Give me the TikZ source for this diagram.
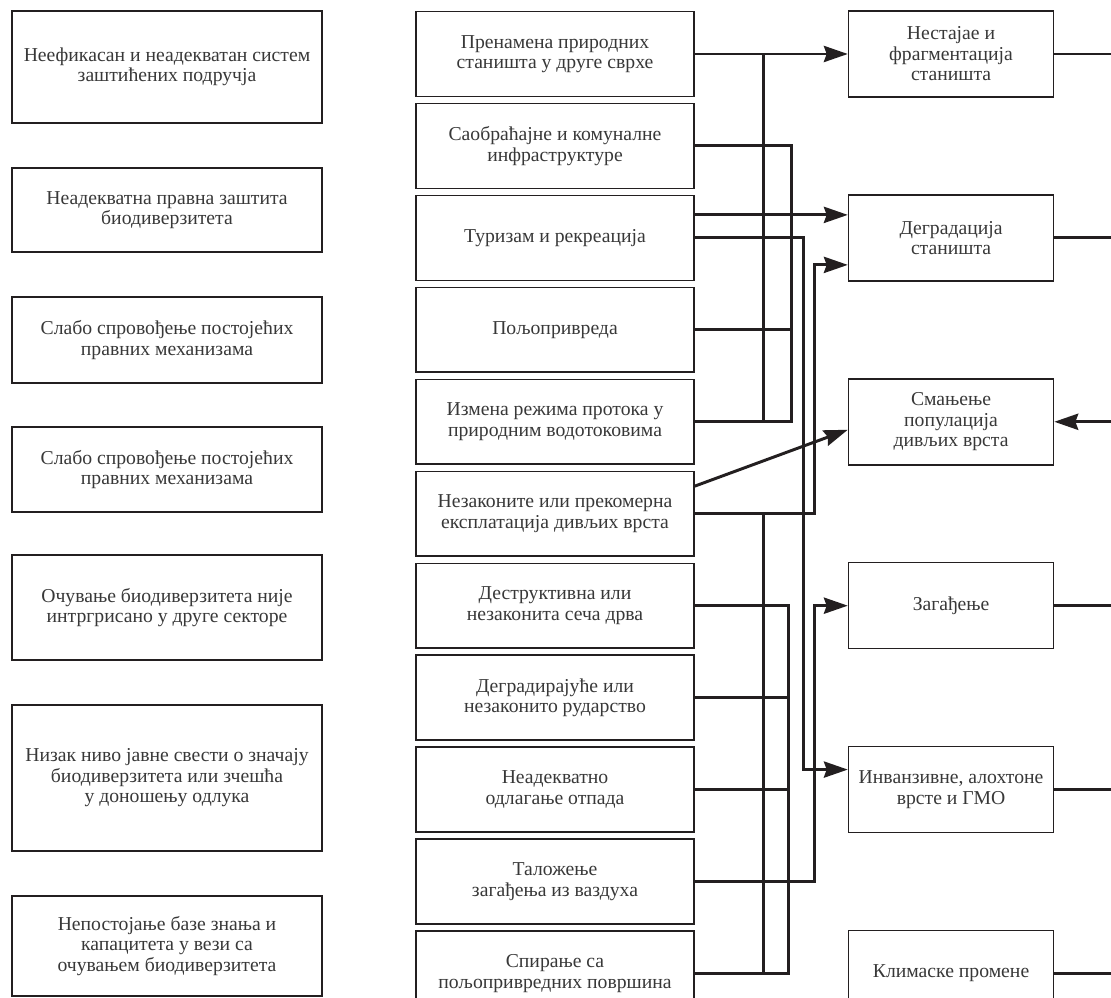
\documentclass[tikz,border=0pt]{standalone}
\usepackage{fontspec}
\setmainfont{Liberation Serif}
\usepackage{xcolor}
\usepackage{tikz}
\usetikzlibrary{positioning,arrows.meta,calc}
\definecolor{ink}{HTML}{231F20}
\definecolor{txt}{HTML}{383838}
\newcommand{\boxfont}{\fontsize{14}{14.6}\selectfont}
\tikzset{
    cause/.style={rectangle, draw=ink, line width=1.1pt, minimum width=7.75cm, align=center, font=\boxfont, text=txt},
    threat/.style={rectangle, draw=ink, line width=1.1pt, minimum width=6.95cm, minimum height=2.12cm, align=center, font=\boxfont, text=txt},
    effect/.style={rectangle, draw=ink, line width=1.1pt, minimum width=5.125cm, minimum height=2.15cm, align=center, font=\boxfont, text=txt},
    link/.style={line width=2.1pt, draw=ink},
    arrow/.style={link, -{Stealth[length=17pt, width=11.5pt, inset=2pt]}}
}

\begin{document}
\begin{tikzpicture}
\useasboundingbox (0,0) rectangle (27.775,-24.95);

% root causes
\node[cause, minimum height=2.8cm] (l1) at (4.175,-1.675) {Неефикасан и неадекватан систем\\заштићених подручја};
\node[cause, minimum height=2.1cm] (l2) at (4.175,-5.25) {Неадекватна правна заштита\\биодиверзитета};
\node[cause, minimum height=2.15cm] (l3) at (4.175,-8.5) {Слабо спровођење постојећих\\правних механизама};
\node[cause, minimum height=2.125cm] (l4) at (4.175,-11.74) {Слабо спровођење постојећих\\правних механизама};
\node[cause, minimum height=2.625cm] (l5) at (4.175,-15.19) {Очување биодиверзитета није\\интргрисано у друге секторе};
\node[cause, minimum height=3.65cm] (l6) at (4.175,-19.45) {Низак ниво јавне свести о значају\\биодиверзитета или зчешћа\\у доношењу одлука};
\node[cause, minimum height=2.5cm] (l7) at (4.175,-23.65) {Непостојање базе знања и\\капацитета у вези са\\очувањем биодиверзитета};

% threats
\node[threat] (m1) at (13.875,-1.35) {Пренамена природних\\станишта у друге сврхе};
\node[threat, below=0.14cm of m1] (m2) {Саобраћајне и комуналне\\инфраструктуре};
\node[threat, below=0.14cm of m2] (m3) {Туризам и рекреација};
\node[threat, below=0.14cm of m3] (m4) {Пољопривреда};
\node[threat, below=0.14cm of m4] (m5) {Измена режима протока у\\природним водотоковима};
\node[threat, below=0.14cm of m5] (m6) {Незаконите или прекомерна\\експлатација дивљих врста};
\node[threat, below=0.14cm of m6] (m7) {Деструктивна или\\незаконита сеча дрва};
\node[threat, below=0.14cm of m7] (m8) {Деградирајуће или\\незаконито рударство};
\node[threat, below=0.14cm of m8] (m9) {Неадекватно\\одлагање отпада};
\node[threat, below=0.14cm of m9] (m10) {Таложење\\загађења из ваздуха};
\node[threat, below=0.14cm of m10] (m11) {Спирање са\\пољопривредних површина};

% pressures
\node[effect, right=3.825cm of m1] (r1) {Нестајае и\\фрагментација\\станишта};
\node[effect, right=3.825cm of m3] (r2) {Деградација\\станишта};
\node[effect, right=3.825cm of m5] (r3) {Смањење\\популација\\дивљих врста};
\node[effect, right=3.825cm of m7] (r4) {Загађење};
\node[effect, right=3.825cm of m9] (r5) {Инванзивне, алохтоне\\врсте и ГМО};
\node[effect, right=3.825cm of m11] (r6) {Климаске промене};

\coordinate (busa) at ($(m1.east)+(1.725,0)$);
\coordinate (buse) at ($(m1.east)+(2.35,0)$);
\coordinate (busb) at ($(m1.east)+(2.425,0)$);
\coordinate (busc) at ($(m1.east)+(2.725,0)$);
\coordinate (busd) at ($(m1.east)+(3.0,0)$);
\coordinate (edge) at (27.775,0);
\coordinate (r2in) at ($(r2.west)+(0,-0.675)$);
\coordinate (r5in) at ($(r5.west)+(0,0.5)$);

% upper group
\draw[arrow] (m1.east) -- (r1.west);
\draw[link] (busa |- m1.east) -- (busa |- m5.east);
\draw[link] (m2.east) -| (busb |- m5.east) -- (m5.east);
\draw[link] (m4.east) -- (busb |- m4.east);
\draw[arrow] ($(m3.east)+(0,0.575)$) -- ($(r2.west)+(0,0.575)$);
\draw[arrow] (m3.east) -| (busc |- r5in) -- (r5in);
\draw[arrow] (m6.east) -| (busd |- r2in) -- (r2in);
\draw[arrow] ($(m6.east)+(0,0.69)$) -- ($(r3.west)+(0,-0.2)$);

% lower group
\draw[link] (busa |- m6.east) -- (busa |- m11.east);
\draw[link] (m7.east) -| (buse |- m11.east) -- (m11.east);
\draw[link] (m8.east) -- (buse |- m8.east);
\draw[link] (m9.east) -- (buse |- m9.east);
\draw[arrow] (m10.east) -| (busd |- r4.west) -- (r4.west);

% to the right margin
\draw[link] (r1.east) -- (r1.east -| edge);
\draw[link] (r2.east) -- (r2.east -| edge);
\draw[arrow] (r3.east -| edge) -- (r3.east);
\draw[link] (r4.east) -- (r4.east -| edge);
\draw[link] (r5.east) -- (r5.east -| edge);
\draw[link] (r6.east) -- (r6.east -| edge);

\end{tikzpicture}
\end{document}
